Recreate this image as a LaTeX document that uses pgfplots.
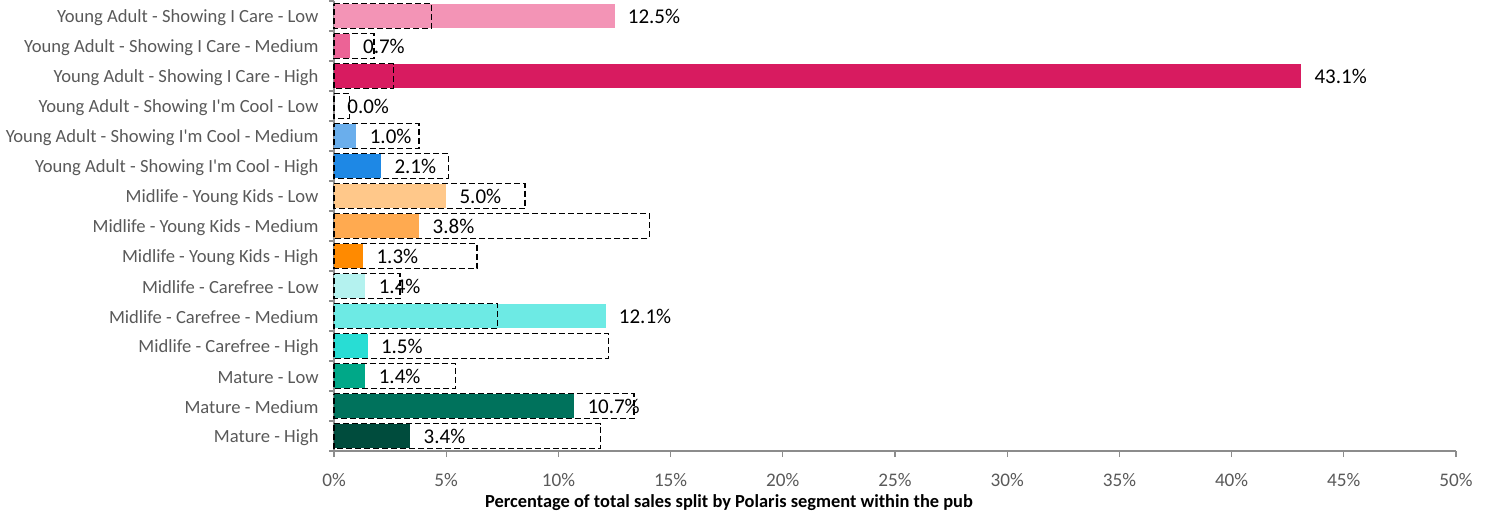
\documentclass[border=0pt]{standalone}
\usepackage{pgfplots}
\pgfplotsset{compat=1.18}
\usepackage{pgfplotstable}
\usepackage{fontspec}
\setmainfont{Carlito}
\definecolor{c1}{HTML}{F394B6}
\definecolor{c2}{HTML}{EC6396}
\definecolor{c3}{HTML}{D81B60}
\definecolor{c4}{HTML}{F8BBD0}
\definecolor{c5}{HTML}{6AAEEC}
\definecolor{c6}{HTML}{1E88E5}
\definecolor{c7}{HTML}{FFC88A}
\definecolor{c8}{HTML}{FFAA50}
\definecolor{c9}{HTML}{FF8A00}
\definecolor{c10}{HTML}{B4F2EF}
\definecolor{c11}{HTML}{6DEAE4}
\definecolor{c12}{HTML}{28DDD4}
\definecolor{c13}{HTML}{00A888}
\definecolor{c14}{HTML}{00725C}
\definecolor{c15}{HTML}{004C3D}
\definecolor{txtgray}{HTML}{595959}
\definecolor{axgray}{HTML}{8C8C8C}
\pgfplotstableread{
idx bench
0 4.35
1 1.78
2 2.64
3 0.68
4 3.79
5 5.09
6 8.51
7 14.05
8 6.37
9 2.94
10 7.29
11 12.24
12 5.42
13 13.37
14 11.88
}\bench
\begin{document}
\begin{tikzpicture}
\useasboundingbox (0,0) rectangle (747pt,257pt);
\begin{axis}[
  at={(167pt,31.5pt)}, anchor=south west,
  scale only axis, width=561pt, height=225pt,
  xmin=0, xmax=50, ymin=-0.5, ymax=14.5,
  y dir=reverse,
  xbar, bar shift=0pt,
  axis x line*=bottom, axis y line*=left,
  axis line style={axgray, line width=0.6pt, -},
  xtick={0,5,...,50},
  xticklabels={0\%,5\%,10\%,15\%,20\%,25\%,30\%,35\%,40\%,45\%,50\%},
  tick align=outside,
  x tick style={axgray, line width=0.6pt},
  major tick length=3pt,
  xticklabel style={font=\fontsize{9.6}{11}\selectfont, text=txtgray, yshift=-4.5pt},
  ytick={0,...,14},
  y tick style={draw=none},
  yticklabels={Young Adult - Showing I Care - Low, Young Adult - Showing I Care - Medium, Young Adult - Showing I Care - High, Young Adult - Showing I\textquotesingle m Cool - Low, Young Adult - Showing I\textquotesingle m Cool - Medium, Young Adult - Showing I\textquotesingle m Cool - High, Midlife - Young Kids - Low, Midlife - Young Kids - Medium, Midlife - Young Kids - High, Midlife - Carefree - Low, Midlife - Carefree - Medium, Midlife - Carefree - High, Mature - Low, Mature - Medium, Mature - High},
  yticklabel style={font=\fontsize{9.3}{11}\selectfont, text=txtgray, inner sep=0pt, xshift=-4.5pt, yshift=-0.7pt},
  extra y ticks={-0.5,0.5,...,14.5},
  extra y tick labels={},
  extra y tick style={y tick style={draw=axgray, line width=0.6pt}, major tick length=2.5pt},
  xlabel={\textbf{Percentage of total sales split by Polaris segment within the pub}},
  xlabel style={font=\fontsize{9.2}{11}\selectfont, text=black, yshift=2.5pt, xshift=-83pt},
  /pgf/number format/assume math mode=true,
  nodes near coords={\pgfmathprintnumber[fixed,fixed zerofill,precision=1]{\pgfplotspointmeta}\%},
  nodes near coords style={font=\fontsize{10.5}{12}\selectfont, text=black, anchor=west, inner sep=0pt, xshift=6.5pt},
  point meta=x,
  bar width=0.77,
  clip=false,
]
\addplot[fill=c1, draw=none] coordinates {(12.5,0)};
\addplot[fill=c2, draw=none] coordinates {(0.7,1)};
\addplot[fill=c3, draw=none] coordinates {(43.1,2)};
\addplot[fill=c4, draw=none] coordinates {(0.0,3)};
\addplot[fill=c5, draw=none] coordinates {(1.0,4)};
\addplot[fill=c6, draw=none] coordinates {(2.1,5)};
\addplot[fill=c7, draw=none] coordinates {(5.0,6)};
\addplot[fill=c8, draw=none] coordinates {(3.8,7)};
\addplot[fill=c9, draw=none] coordinates {(1.3,8)};
\addplot[fill=c10, draw=none] coordinates {(1.4,9)};
\addplot[fill=c11, draw=none] coordinates {(12.1,10)};
\addplot[fill=c12, draw=none] coordinates {(1.5,11)};
\addplot[fill=c13, draw=none] coordinates {(1.4,12)};
\addplot[fill=c14, draw=none] coordinates {(10.7,13)};
\addplot[fill=c15, draw=none] coordinates {(3.4,14)};
\addplot[draw=black, fill=none, line width=0.7pt, dash pattern=on 3pt off 1.5pt, bar width=0.83, nodes near coords={}] table[x=bench, y=idx] {\bench};
\end{axis}
\end{tikzpicture}
\end{document}
